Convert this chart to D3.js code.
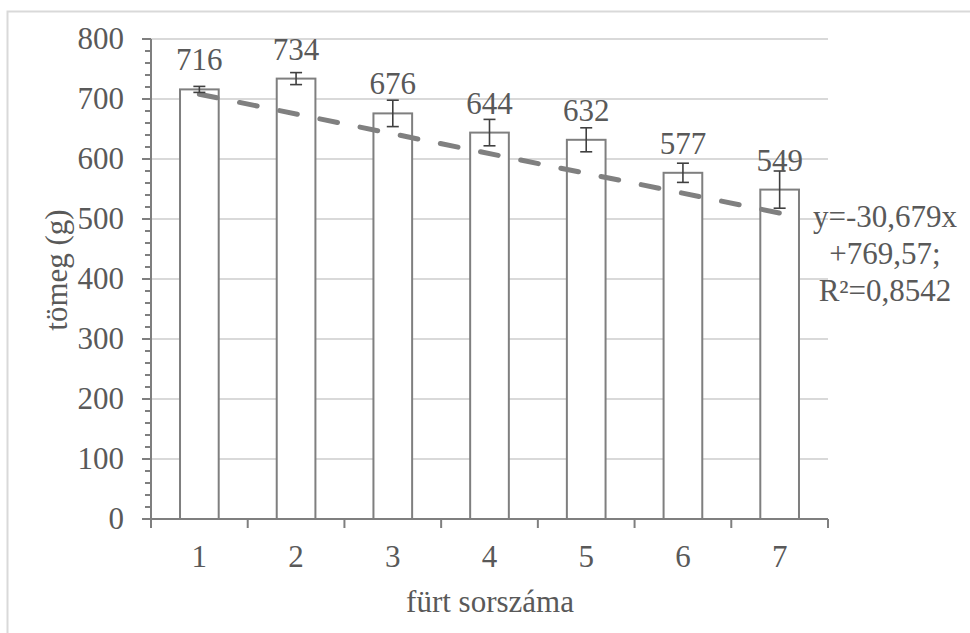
<!DOCTYPE html>
<html>
<head>
<meta charset="utf-8">
<script src="https://cdn.jsdelivr.net/npm/d3@7"></script>
<style>
  body { margin: 0; background: #fff; }
  text { font-family: "Liberation Serif", "Times New Roman", serif; fill: #595959; }
</style>
</head>
<body>
<svg id="chart" width="970" height="633"></svg>
<script>
/* chart data */
var categories = ["1", "2", "3", "4", "5", "6", "7"];
var masses = [716, 734, 676, 644, 632, 577, 549];
var errors = [5, 10, 22, 22, 20, 16, 31];
var yTicks = [0, 100, 200, 300, 400, 500, 600, 700, 800];
// trend line as drawn, value at first and last category
var trendPoints = [{cat: "1", value: 708}, {cat: "7", value: 510}];
var equationLines = ["y=-30,679x", "+769,57;", "R\u00b2=0,8542"];

var svg = d3.select("#chart");
var plotLeft = 151, plotRight = 828, plotTop = 39, plotBottom = 519;

var x = d3.scaleBand().domain(categories).range([plotLeft, plotRight]).paddingInner(0).paddingOuter(0);
var y = d3.scaleLinear().domain([0, 800]).range([plotBottom, plotTop]);

// outer frame (top and left edges visible)
svg.append("path")
  .attr("d", "M7.5,633 L7.5,11.5 L970,11.5")
  .attr("fill", "none")
  .attr("stroke", "#d9d9d9")
  .attr("stroke-width", 2);

// gridlines
svg.append("g")
  .selectAll("line")
  .data(yTicks.filter(function(d) { return d > 0; }))
  .enter().append("line")
  .attr("x1", plotLeft).attr("x2", plotRight)
  .attr("y1", function(d) { return y(d); })
  .attr("y2", function(d) { return y(d); })
  .attr("stroke", "#d9d9d9")
  .attr("stroke-width", 2);

// y axis with minor ticks
var yMinor = d3.range(0, 801, 20);
svg.append("g")
  .selectAll("line")
  .data(yMinor)
  .enter().append("line")
  .attr("x1", function(d) { return d % 100 === 0 ? plotLeft - 9 : plotLeft - 6; })
  .attr("x2", plotLeft)
  .attr("y1", function(d) { return y(d); })
  .attr("y2", function(d) { return y(d); })
  .attr("stroke", "#7f7f7f")
  .attr("stroke-width", 2);

svg.append("line")
  .attr("x1", plotLeft).attr("x2", plotLeft)
  .attr("y1", plotTop).attr("y2", plotBottom)
  .attr("stroke", "#7f7f7f").attr("stroke-width", 2);

svg.append("g")
  .selectAll("text")
  .data(yTicks)
  .enter().append("text")
  .attr("x", 124)
  .attr("y", function(d) { return y(d) + 10; })
  .attr("text-anchor", "end")
  .attr("font-size", 31)
  .text(function(d) { return d; });

// bars
svg.append("g")
  .selectAll("rect")
  .data(masses)
  .enter().append("rect")
  .attr("x", function(d, i) { return x(categories[i]) + x.bandwidth() * 0.3; })
  .attr("width", x.bandwidth() * 0.4)
  .attr("y", function(d) { return y(d); })
  .attr("height", function(d) { return y(0) - y(d); })
  .attr("fill", "#fff")
  .attr("stroke", "#7f7f7f")
  .attr("stroke-width", 2);

// x axis
svg.append("line")
  .attr("x1", plotLeft).attr("x2", plotRight)
  .attr("y1", plotBottom).attr("y2", plotBottom)
  .attr("stroke", "#7f7f7f").attr("stroke-width", 2);

var xBounds = categories.map(function(c) { return x(c); }).concat([plotRight]);
svg.append("g")
  .selectAll("line")
  .data(xBounds)
  .enter().append("line")
  .attr("x1", function(d) { return d; })
  .attr("x2", function(d) { return d; })
  .attr("y1", plotBottom).attr("y2", plotBottom + 9)
  .attr("stroke", "#7f7f7f").attr("stroke-width", 2);

svg.append("g")
  .selectAll("text")
  .data(categories)
  .enter().append("text")
  .attr("x", function(d) { return x(d) + x.bandwidth() / 2; })
  .attr("y", 567)
  .attr("text-anchor", "middle")
  .attr("font-size", 31)
  .text(function(d) { return d; });

// trend line
var cx = function(c) { return x(c) + x.bandwidth() / 2; };
svg.append("line")
  .attr("x1", cx(trendPoints[0].cat)).attr("y1", y(trendPoints[0].value))
  .attr("x2", cx(trendPoints[1].cat)).attr("y2", y(trendPoints[1].value))
  .attr("stroke", "#808080")
  .attr("stroke-width", 5)
  .attr("stroke-linecap", "round")
  .attr("stroke-dasharray", "18,23");

// error bars
var eb = svg.append("g").attr("stroke", "#404040").attr("stroke-width", 1.6);
masses.forEach(function(m, i) {
  var c = cx(categories[i]);
  eb.append("line").attr("x1", c).attr("x2", c)
    .attr("y1", y(m + errors[i])).attr("y2", y(m - errors[i]));
  [m + errors[i], m - errors[i]].forEach(function(v) {
    eb.append("line").attr("x1", c - 6).attr("x2", c + 6)
      .attr("y1", y(v)).attr("y2", y(v));
  });
});

// data labels
svg.append("g")
  .selectAll("text")
  .data(masses)
  .enter().append("text")
  .attr("x", function(d, i) { return cx(categories[i]); })
  .attr("y", function(d) { return y(d) - 19; })
  .attr("text-anchor", "middle")
  .attr("font-size", 31)
  .attr("fill", "#404040")
  .text(function(d) { return d; });

// trend equation
svg.append("g")
  .selectAll("text")
  .data(equationLines)
  .enter().append("text")
  .attr("x", 885)
  .attr("y", function(d, i) { return 227 + i * 37; })
  .attr("text-anchor", "middle")
  .attr("font-size", 31)
  .text(function(d) { return d; });

// axis titles
svg.append("text")
  .attr("transform", "translate(67,270) rotate(-90)")
  .attr("text-anchor", "middle")
  .attr("font-size", 31)
  .text("tömeg (g)");

svg.append("text")
  .attr("x", 490).attr("y", 612)
  .attr("text-anchor", "middle")
  .attr("font-size", 31)
  .text("fürt sorszáma");
</script>
</body>
</html>
